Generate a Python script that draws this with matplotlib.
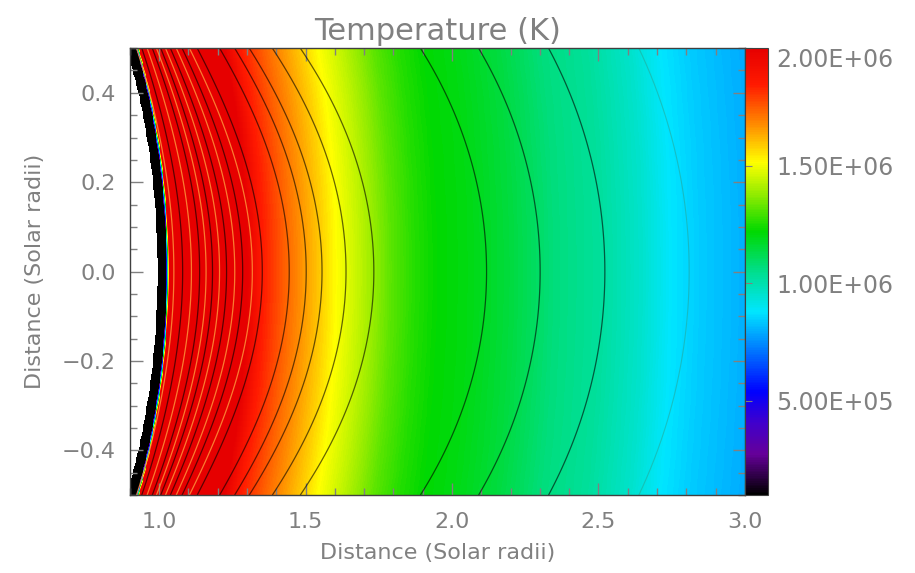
import numpy as np
import matplotlib
matplotlib.use('Agg')
import matplotlib.pyplot as plt
from matplotlib.colors import LinearSegmentedColormap
from matplotlib.ticker import MultipleLocator, FormatStrFormatter, FuncFormatter

# temperature along y=0: distance (Rsun), T (K)
prof_r = [1.036, 1.300, 1.352, 1.444, 1.500, 1.556, 1.600, 1.690, 1.790, 1.870,
          1.950, 2.050, 2.200, 2.350, 2.500, 2.650, 2.750, 2.850, 3.000, 3.200]
prof_T = [2.50e6, 2.00e6, 1.85e6, 1.72e6, 1.65e6, 1.58e6, 1.52e6, 1.43e6, 1.32e6, 1.26e6,
          1.22e6, 1.20e6, 1.145e6, 1.07e6, 1.03e6, 0.955e6, 0.88e6, 0.84e6, 0.80e6, 0.76e6]

# inner edge: nothing plotted below 0.995, black up to the limb
inner_r = 0.995
limb_r = [0.995, 1.024, 1.036]
limb_f = [0.02, 0.02, 1.0]

# overlaid contours: where each line crosses y=0 (Rsun)
black_arcs = [1.080, 1.138, 1.182, 1.230, 1.285, 1.352, 1.444, 1.502, 1.556,
              1.638, 1.733, 2.118, 2.301, 2.522]
light_arcs = [1.050, 1.110, 1.160, 1.206, 1.258, 1.318]
faint_arcs = [2.810]

# shapes: colour bands are flatter than circles, the contours bulge at y=0
flat_k = 0.8
bulge = 1.45

# IDL-like rainbow table
cmap_pos = [0.0, 0.09, 0.16, 0.23, 0.32, 0.41, 0.50, 0.59, 0.67, 0.745, 0.83, 0.92, 1.0]
cmap_col = ['#000000', '#650099', '#4000cc', '#0000ff', '#0073ff', '#00e6ff',
            '#00de8c', '#00d900', '#8ceb00', '#ffff00', '#ff8c00', '#ff1a00', '#e60000']
rainbow = LinearSegmentedColormap.from_list('idl_rainbow', list(zip(cmap_pos, cmap_col)))

tmin, tmax = 1.0e5, 2.0e6
cb_ticks = [5e5, 1e6, 1.5e6, 2e6]

x = np.linspace(0.9, 3.0, 800)
y = np.linspace(-0.5, 0.5, 450)
X, Y = np.meshgrid(x, y)
L = np.sqrt(X ** 2 + flat_k * Y ** 2)
T = np.interp(L, prof_r, prof_T) * np.interp(L, limb_r, limb_f)
T = np.ma.masked_where(L < inner_r, T)

c = bulge * (1 - np.exp(-np.clip(L - 1.0, 0, None) / 0.35))
Q = np.ma.masked_where(L < 1.02, L * (1 + c * Y ** 2 / L ** 2))

grey = '#808080'
plt.rcParams['font.family'] = 'DejaVu Sans'

fig = plt.figure(figsize=(9.15, 5.73), dpi=100)
ax = fig.add_axes([0.142, 0.136, 0.672, 0.780])
cax = fig.add_axes([0.814, 0.136, 0.025, 0.780])

im = ax.pcolormesh(X, Y, T, cmap=rainbow, vmin=tmin, vmax=tmax, shading='auto')
ax.contour(X, Y, Q, levels=black_arcs, colors='k', linewidths=0.9, alpha=0.6)
ax.contour(X, Y, Q, levels=light_arcs, colors='#ff9a3c', linewidths=0.9, alpha=0.8)
ax.contour(X, Y, Q, levels=faint_arcs, colors='#2aa08a', linewidths=0.8, alpha=0.5)


def fmt(v, pos):
    return ('%.1f' % v).replace('-', '\u2212')


ax.set_xlim(0.9, 3.0)
ax.set_ylim(-0.5, 0.5)
ax.xaxis.set_major_locator(MultipleLocator(0.5))
ax.xaxis.set_minor_locator(MultipleLocator(0.1))
ax.yaxis.set_major_locator(MultipleLocator(0.2))
ax.yaxis.set_minor_locator(MultipleLocator(0.05))
ax.xaxis.set_major_formatter(FuncFormatter(fmt))
ax.yaxis.set_major_formatter(FuncFormatter(fmt))
ax.tick_params(which='both', direction='in', top=True, right=True, color=grey,
               labelcolor=grey, labelsize=16)
ax.tick_params(axis='x', pad=12)
ax.tick_params(axis='y', pad=10)
ax.tick_params(which='major', length=9, width=1)
ax.tick_params(which='minor', length=5, width=1)
for sp in ax.spines.values():
    sp.set_color('#404040')
    sp.set_linewidth(1)

ax.set_title('Temperature (K)', color=grey, fontsize=22, pad=6)
ax.set_xlabel('Distance (Solar radii)', color=grey, fontsize=16, labelpad=8)
ax.set_ylabel('Distance (Solar radii)', color=grey, fontsize=16, labelpad=12)

cb = fig.colorbar(im, cax=cax, ticks=cb_ticks)
cb.outline.set_edgecolor('#404040')
cb.formatter = FormatStrFormatter('%.2E')
cb.update_ticks()
cax.tick_params(left=True, right=False, labelleft=False, labelright=True,
                direction='in', length=5, color=grey, labelcolor=grey,
                labelsize=17, pad=6)
cax.minorticks_off()
cax.yaxis.get_major_ticks()[-1].label2.set_va('top')

fig.savefig('out.png', dpi=100)
